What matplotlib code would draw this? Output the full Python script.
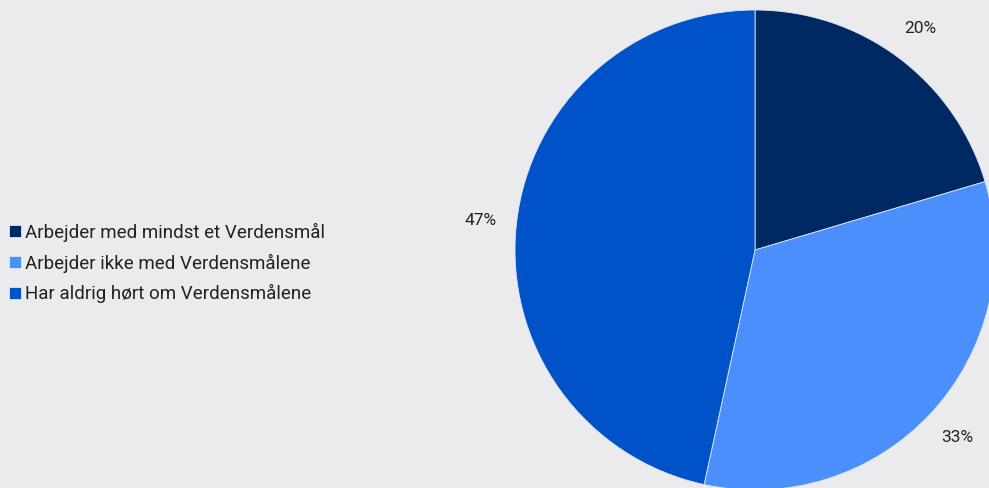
import matplotlib.pyplot as plt

labels = ["Arbejder med mindst et Verdensmål",
          "Arbejder ikke med Verdensmålene",
          "Har aldrig hørt om Verdensmålene"]
values = [20.4, 33.0, 46.6]
colors = ["#002862", "#4a8ffc", "#0052c8"]

plt.rcParams['font.family'] = ['Roboto', 'DejaVu Sans']

fig = plt.figure(figsize=(9.89, 4.88), dpi=100)
fig.patch.set_facecolor("#ebebee")
ax = fig.add_axes([0, 0, 1, 1])
ax.set_facecolor("#ebebee")

wedges, texts, autotexts = ax.pie(
    values, colors=colors, startangle=90, counterclock=False,
    radius=240, center=(755, 238),
    autopct=lambda p: f"{p:.0f}%", pctdistance=1.15,
    wedgeprops=dict(edgecolor="#dfe6f2", linewidth=0.6),
    textprops=dict(color="#222222", fontsize=12.5),
)
ax.set_xlim(0, 989)
ax.set_ylim(0, 488)
ax.set_aspect('equal')
ax.axis('off')

leg = fig.legend(wedges, labels, loc='center left', bbox_to_anchor=(0.0, 0.461),
                 frameon=False, fontsize=13.5, handlelength=0.6, handleheight=0.6,
                 handletextpad=0.25, labelspacing=0.62, borderaxespad=0.1)
for t in leg.get_texts():
    t.set_color("#222222")

fig.savefig("out.png", dpi=100, facecolor=fig.get_facecolor())
